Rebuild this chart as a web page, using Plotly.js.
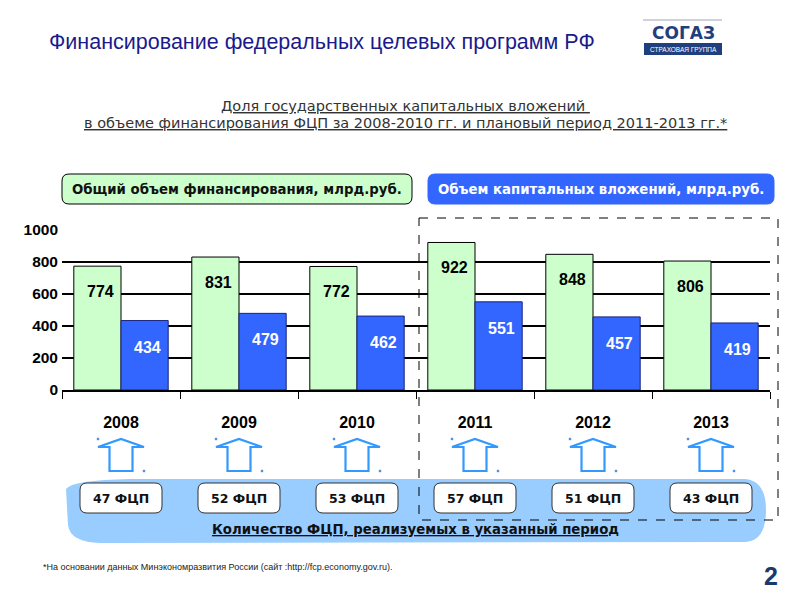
<!DOCTYPE html>
<html>
<head>
<meta charset="utf-8">
<script src="https://cdn.plot.ly/plotly-3.0.1.min.js"></script>
<style>html,body{margin:0;padding:0;background:#fff;}#chart{width:800px;height:600px;}</style>
</head>
<body>
<div id="chart"></div>
<script>
var years = ['2008','2009','2010','2011','2012','2013'];
var totalFunding = [774, 831, 772, 922, 848, 806];
var capitalInvestment = [434, 479, 462, 551, 457, 419];
var programCount = [47, 52, 53, 57, 51, 43];
var yTicks = [0, 200, 400, 600, 800, 1000];

var NUMF = '"Liberation Sans", Arial, sans-serif';
var WIDE = '"DejaVu Sans", Verdana, sans-serif';

// layout geometry helpers (plot area: x 62..770 px, y 230..390 px)
var L = 62, R = 770, T = 230, B = 390;
function py(p) { return 1 - (p - T) / (B - T); }
function px(p) { return (p - L) / (R - L); }
var nCat = years.length;
function catX(i) { return (i + 0.5) / nCat; } // paper x of category centre

function rrectPath(x0, x1, y0, y1, rx, ry) {
  return 'M' + (x0 + rx) + ',' + y0 +
    ' L' + (x1 - rx) + ',' + y0 +
    ' Q' + x1 + ',' + y0 + ' ' + x1 + ',' + (y0 - ry) +
    ' L' + x1 + ',' + (y1 + ry) +
    ' Q' + x1 + ',' + y1 + ' ' + (x1 - rx) + ',' + y1 +
    ' L' + (x0 + rx) + ',' + y1 +
    ' Q' + x0 + ',' + y1 + ' ' + x0 + ',' + (y1 + ry) +
    ' L' + x0 + ',' + (y0 - ry) +
    ' Q' + x0 + ',' + y0 + ' ' + (x0 + rx) + ',' + y0 + ' Z';
}

var traces = [
  {
    type: 'bar', x: years, y: totalFunding, name: 'Общий объем финансирования',
    marker: {color: '#ccffcc', line: {color: '#000000', width: 1}},
    hoverinfo: 'x+y'
  },
  {
    type: 'bar', x: years, y: capitalInvestment, name: 'Объем капитальных вложений',
    marker: {color: '#3366ff', line: {color: '#1a237e', width: 1}},
    hoverinfo: 'x+y'
  }
];

var shapes = [];
var annotations = [];
function ann(o) { o.showarrow = false; if (!o.xanchor) o.xanchor = 'center'; if (!o.yanchor) o.yanchor = 'middle'; annotations.push(o); }

// bar value labels (x given as category serial number on the category axis)
years.forEach(function (yr, i) {
  ann({x: i, y: totalFunding[i], xref: 'x', yref: 'y', text: String(totalFunding[i]),
    xshift: -21, yshift: -15, yanchor: 'top',
    font: {family: NUMF, size: 16, color: '#000', weight: 'bold'}});
  ann({x: i, y: capitalInvestment[i], xref: 'x', yref: 'y', text: String(capitalInvestment[i]),
    xshift: 26, yshift: -16, yanchor: 'top',
    font: {family: NUMF, size: 16, color: '#ffffff', weight: 'bold'}});
});

// light blue band behind program counts
function P(x, y) { return px(x) + ',' + py(y); }
shapes.push({type: 'path', xref: 'paper', yref: 'paper', layer: 'below',
  path: 'M' + P(66, 489) + ' Q' + P(72, 480) + ' ' + P(130, 479) + ' L' + P(745, 479) +
        ' Q' + P(766, 481) + ' ' + P(766, 510) + ' Q' + P(766, 541) + ' ' + P(745, 542) +
        ' L' + P(100, 543) + ' Q' + P(70, 542) + ' ' + P(68, 525) + ' Z',
  fillcolor: '#99ccff', line: {width: 0}});

// arrows and program count boxes
years.forEach(function (yr, i) {
  var c = catX(i);
  var hw = 23 / (R - L), sw = 11.5 / (R - L), bw = 41 / (R - L), d = 1.2 / (R - L), dy = 1.2 / (B - T);
  shapes.push({type: 'path', xref: 'paper', yref: 'paper',
    path: 'M' + (c - hw) + ',' + py(447) + ' L' + c + ',' + py(439) + ' L' + (c + hw) + ',' + py(447) +
          ' L' + (c + sw) + ',' + py(447) + ' L' + (c + sw) + ',' + py(471) +
          ' L' + (c - sw) + ',' + py(471) + ' L' + (c - sw) + ',' + py(447) + ' Z',
    fillcolor: 'rgba(255,255,255,0)', line: {color: '#3399ff', width: 2.2}});
  // tiny selection dots at the arrow corners
  [[c - hw, py(439)], [c + hw, py(471)]].forEach(function (pt) {
    shapes.push({type: 'rect', xref: 'paper', yref: 'paper', x0: pt[0] - d, x1: pt[0] + d, y0: pt[1] - dy, y1: pt[1] + dy,
      fillcolor: '#5a8fd8', line: {width: 0}});
  });
  shapes.push({type: 'path', xref: 'paper', yref: 'paper',
    path: rrectPath(c - bw, c + bw, py(483), py(513), 7 / (R - L), 7 / (B - T)),
    fillcolor: '#ffffff', line: {color: '#333333', width: 1}});
  ann({x: i, y: py(498), xref: 'x', yref: 'paper', text: programCount[i] + ' ФЦП',
    font: {family: WIDE, size: 12.5, color: '#111', weight: 'bold'}});
});

// dashed planning-period frame
shapes.push({type: 'rect', xref: 'paper', yref: 'paper', x0: px(419), x1: px(778), y0: py(218), y1: py(520),
  line: {color: '#000', width: 1, dash: 'dash'}, fillcolor: 'rgba(0,0,0,0)'});

// legend boxes
shapes.push({type: 'path', xref: 'paper', yref: 'paper',
  path: rrectPath(px(62), px(412), py(174), py(204), 7 / (R - L), 7 / (B - T)),
  fillcolor: '#ccffcc', line: {color: '#000', width: 1}});
shapes.push({type: 'path', xref: 'paper', yref: 'paper',
  path: rrectPath(px(428), px(774), py(174), py(204), 7 / (R - L), 7 / (B - T)),
  fillcolor: '#3366ff', line: {color: '#3366ff', width: 1}});
ann({xref: 'paper', yref: 'paper', x: px(237), y: py(189),
  text: 'Общий объем финансирования, млрд.руб.', font: {family: WIDE, size: 13.3, color: '#111', weight: 'bold'}});
ann({xref: 'paper', yref: 'paper', x: px(601), y: py(189),
  text: 'Объем капитальных вложений, млрд.руб.', font: {family: WIDE, size: 13.3, color: '#ffffff', weight: 'bold'}});

// caption under counts
ann({xref: 'paper', yref: 'paper', x: px(415), y: py(529),
  text: '<u>Количество ФЦП, реализуемых в указанный период</u>', font: {family: WIDE, size: 13.3, color: '#111', weight: 'bold'}});

// subtitle
ann({xref: 'paper', yref: 'paper', x: px(405), y: py(106),
  text: '<u>Доля государственных капитальных вложений </u>', font: {family: WIDE, size: 14.5, color: '#333'}});
ann({xref: 'paper', yref: 'paper', x: px(405), y: py(123),
  text: '<u>в объеме финансирования ФЦП за 2008-2010 гг. и плановый период 2011-2013 гг.*</u>', font: {family: WIDE, size: 14.5, color: '#333'}});

// logo
shapes.push({type: 'line', xref: 'paper', yref: 'paper', x0: px(643), x1: px(722), y0: py(20), y1: py(20), line: {color: '#9aa4b8', width: 1}});
shapes.push({type: 'rect', xref: 'paper', yref: 'paper', x0: px(644), x1: px(722), y0: py(43), y1: py(55), fillcolor: '#1f3f7f', line: {width: 0}});
ann({xref: 'paper', yref: 'paper', x: px(683), y: py(33),
  text: 'СОГАЗ', font: {family: WIDE, size: 17, color: '#1f3f7f', weight: 'bold'}});
ann({xref: 'paper', yref: 'paper', x: px(683), y: py(49),
  text: 'СТРАХОВАЯ ГРУППА', font: {family: NUMF, size: 6.5, color: '#ffffff'}});

// page title
ann({xref: 'paper', yref: 'paper', x: px(47), y: py(42), xanchor: 'left',
  text: 'Финансирование федеральных целевых программ РФ', font: {family: NUMF, size: 21.5, color: '#1a1a8c'}});

// footnote and page number
ann({xref: 'paper', yref: 'paper', x: px(41), y: py(567), xanchor: 'left',
  text: '*На основании данных Минэкономразвития России (сайт :http://fcp.economy.gov.ru).', font: {family: NUMF, size: 9, color: '#222'}});
ann({xref: 'paper', yref: 'paper', x: px(771), y: py(576),
  text: '2', font: {family: NUMF, size: 25, color: '#1a3a6e', weight: 'bold'}});

var layout = {
  width: 800, height: 600,
  margin: {l: L, r: 800 - R, t: T, b: 600 - B, pad: 0},
  paper_bgcolor: '#ffffff', plot_bgcolor: '#ffffff',
  showlegend: false,
  barmode: 'group', bargap: 0.2, bargroupgap: 0,
  xaxis: {
    type: 'category', categoryorder: 'array', categoryarray: years,
    range: [-0.5, nCat - 0.5], autorange: false,
    tickson: 'boundaries', ticks: 'outside', ticklen: 7, tickcolor: '#000', tickwidth: 1,
    showline: true, linecolor: '#000', linewidth: 1.5, showgrid: false, zeroline: false,
    ticklabelstandoff: 17,
    tickfont: {family: NUMF, size: 16, color: '#000', weight: 'bold'}
  },
  yaxis: {
    range: [0, 1000], autorange: false, tickvals: yTicks, ticktext: yTicks.map(String),
    showgrid: true, gridcolor: '#000', gridwidth: 1.5, zeroline: false, showline: false,
    ticks: '', ticklabelstandoff: 3,
    tickfont: {family: NUMF, size: 15.5, color: '#000', weight: 'bold'}
  },
  shapes: shapes,
  annotations: annotations
};

Plotly.newPlot('chart', traces, layout, {displayModeBar: false, staticPlot: true});
</script>
</body>
</html>
